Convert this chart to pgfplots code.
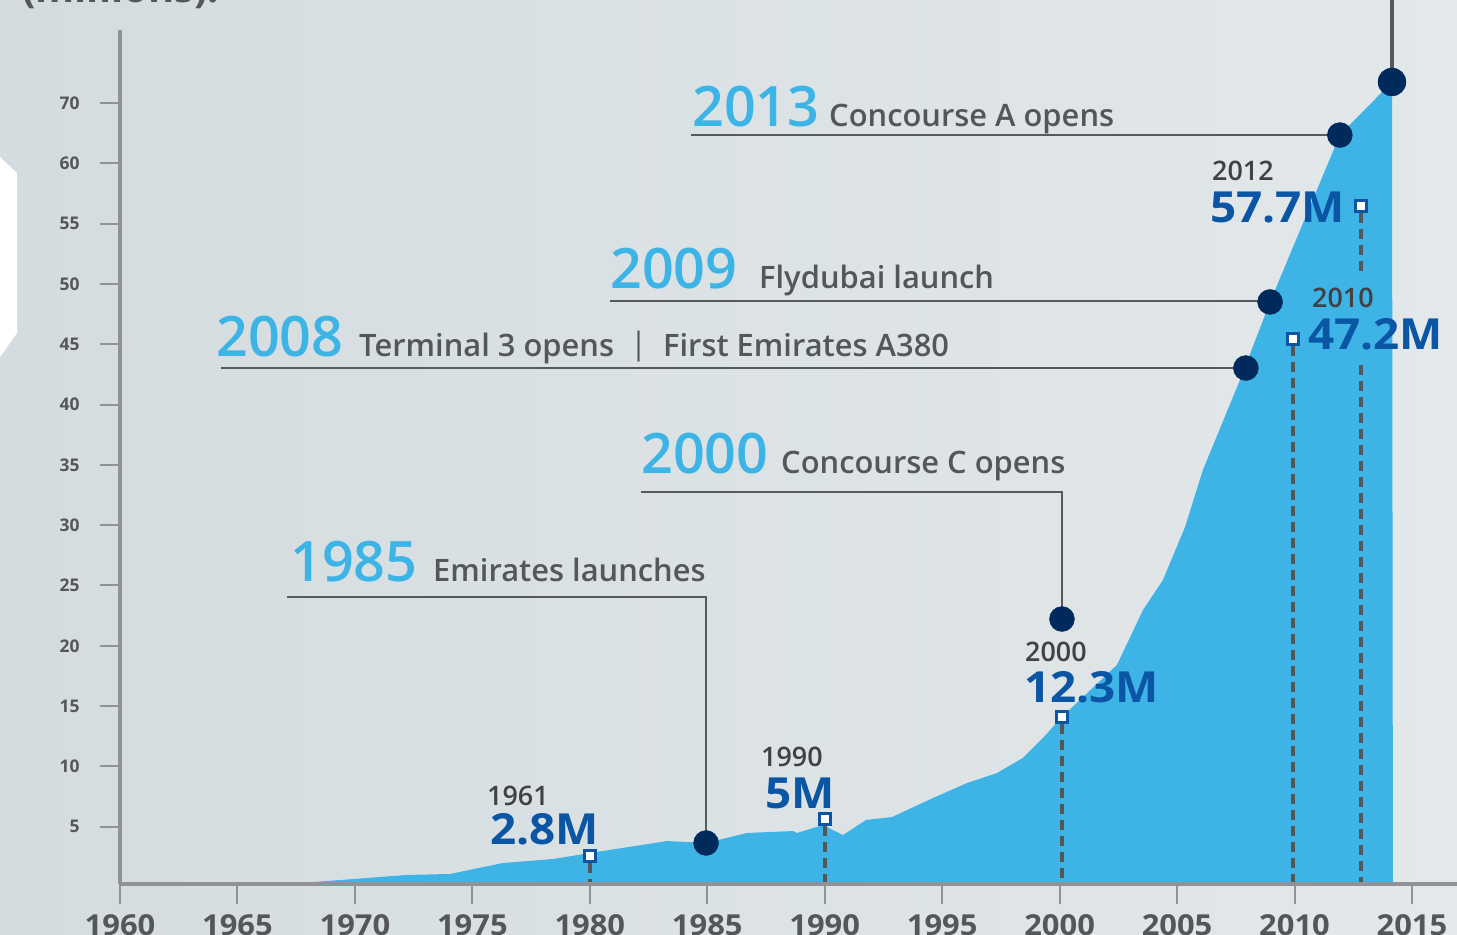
\documentclass[border=0pt]{standalone}
\usepackage{fontspec}
\usepackage{pgfplots}
\pgfplotsset{compat=1.18}
\setmainfont{Open Sans}
\newfontfamily\osSB{Open Sans Semibold}
\newfontfamily\osW{Open Sans}[FakeStretch=1.07]
\definecolor{bgL}{HTML}{D4DCDF}
\definecolor{bgR}{HTML}{E3E8EA}
\definecolor{areac}{HTML}{3DB3E6}
\definecolor{navy}{HTML}{002A5C}
\definecolor{dblue}{HTML}{0A56A5}
\definecolor{lblue}{HTML}{3DB4E6}
\definecolor{tgrey}{HTML}{555658}
\definecolor{dgrey}{HTML}{414143}
\definecolor{lgrey}{HTML}{58595B}
\definecolor{axgrey}{HTML}{909295}
\begin{document}
\begin{tikzpicture}
\useasboundingbox (0,0) rectangle (1457bp,935bp);
\clip (0,0) rectangle (1457bp,935bp);
\shade[left color=bgL, right color=bgR] (0,0) rectangle (1457bp,935bp);
\begin{scope}[x=1bp,y=-1bp,shift={(0bp,935bp)}]
  \fill[white] (0,157) -- (17,173) -- (17,333) -- (0,357) -- cycle;
  \node[anchor=base west, inner sep=0, text=tgrey, font=\fontsize{40}{42}\selectfont\bfseries] at (22,3) {(millions):};
\end{scope}
\begin{axis}[
  at={(120bp,51bp)}, anchor=south west, scale only axis,
  width=1337bp, height=854bp,
  xmin=1960, xmax=2016.92, ymin=0.25, ymax=71.06,
  axis x line=bottom, axis y line=left,
  axis line style={-, axgrey, line width=3.5bp},
  axis on top, clip=false,
  xtick={1960,1965,1970,1975,1980,1985,1990,1995,2000,2005,2010,2015},
  xticklabels={1960,1965,1970,1975,1980,1985,1990,1995,2000,2005,2010,2015},
  ytick={5,10,15,20,25,30,35,40,45,50,55,60,65},
  yticklabels={5,10,15,20,25,30,35,40,45,50,55,60,70},
  tick align=outside, major tick length=20bp,
  tick style={axgrey, line width=2bp},
  xticklabel style={font=\fontsize{29}{30}\selectfont\osW\bfseries, text=tgrey, yshift=-7bp},
  yticklabel style={font=\fontsize{17.5}{18}\selectfont\bfseries, text=tgrey, xshift=-17bp},
]
% passenger area
\addplot[fill=areac, draw=none] coordinates {
(1967.96,0.25) (1968.22,0.41) (1969.92,0.66) (1972.22,1.00) (1974.05,1.08)
(1976.30,1.99) (1978.43,2.32) (1980.01,2.82) (1983.29,3.81) (1984.14,3.73)
(1984.95,3.65) (1986.69,4.48) (1988.65,4.64) (1988.82,4.48) (1989.93,5.14)
(1990.78,4.31) (1991.76,5.56) (1992.86,5.80) (1994.61,7.38) (1996.06,8.62)
(1997.33,9.45) (1998.44,10.70) (1999.29,12.35) (2000.10,14.10) (2002.44,18.41)
(2003.55,22.97) (2004.40,25.46) (2005.34,29.85) (2006.10,34.58) (2007.68,42.04)
(2008.96,48.51) (2011.93,62.35) (2014.15,66.75) (2014.19,0.25)
};
% dashed drop lines
\addplot[tgrey, line width=4bp, dash pattern=on 10bp off 6bp] coordinates {(1980.01,1.99) (1980.01,0.25)};
\addplot[tgrey, line width=4bp, dash pattern=on 10bp off 6bp] coordinates {(1990.01,5.06) (1990.01,0.25)};
\addplot[tgrey, line width=4bp, dash pattern=on 10bp off 6bp] coordinates {(2000.10,13.52) (2000.10,0.25)};
\addplot[tgrey, line width=4bp, dash pattern=on 10bp off 6bp] coordinates {(2009.93,44.86) (2009.93,0.25)};
\addplot[tgrey, line width=4bp, dash pattern=on 10bp off 6bp] coordinates {(2012.83,55.89) (2012.83,50.75)};
\addplot[tgrey, line width=4bp, dash pattern=on 10bp off 6bp] coordinates {(2012.83,43.28) (2012.83,0.25)};
% connector lines
\addplot[lgrey, line width=2.5bp] coordinates {(1967.11,24.05) (1984.95,24.05) (1984.95,3.65)};
\addplot[lgrey, line width=2.5bp] coordinates {(1982.18,32.75) (2000.10,32.75) (2000.10,22.22)};
\addplot[lgrey, line width=2.5bp] coordinates {(1964.30,43.03) (2007.93,43.03)};
\addplot[lgrey, line width=2.5bp] coordinates {(1980.86,48.59) (2008.96,48.59)};
\addplot[lgrey, line width=2.5bp] coordinates {(1984.31,62.35) (2011.93,62.35)};
\addplot[lgrey, line width=3.5bp] coordinates {(2014.15,66.75) (2014.15,73.6)};
% milestone dots
\addplot[only marks, mark=*, mark size=12.5bp, mark options={fill=navy, draw=navy}] coordinates {
(1984.95,3.65) (2000.10,22.22) (2007.93,43.03) (2008.96,48.51) (2011.93,62.35)};
\addplot[only marks, mark=*, mark size=14bp, mark options={fill=navy, draw=navy}] coordinates {(2014.15,66.75)};
% value squares
\addplot[only marks, mark=square*, mark size=5.5bp, mark options={fill=white, draw=dblue, line width=3bp}] coordinates {
(1980.01,2.57) (1990.01,5.64) (2000.10,14.10) (2009.93,45.44) (2012.83,56.47)};
\end{axis}
\begin{scope}[x=1bp,y=-1bp,shift={(0bp,935bp)}]
  \tikzset{big/.style={anchor=base west, inner sep=0, text=lblue, font=\fontsize{56}{58}\selectfont\osSB},
           ev/.style={anchor=base west, inner sep=0, text=tgrey, font=\fontsize{31}{32}\selectfont\osSB},
           yr/.style={anchor=base west, inner sep=0, text=dgrey, font=\fontsize{27}{28}\selectfont\osSB},
           val/.style={anchor=base west, inner sep=0, text=dblue, font=\fontsize{43}{44}\selectfont\osW\bfseries}}
  \node[big] at (290,582) {1985};
  \node[ev] at (433,582) {Emirates launches};
  \node[big] at (641,474) {2000};
  \node[ev] at (781,474) {Concourse C opens};
  \node[big] at (216,357) {2008};
  \node[ev] at (359,357) {Terminal 3 opens};
  \node[ev, font=\fontsize{31}{32}\selectfont] at (630,355) {|};
  \node[ev] at (663,357) {First Emirates A380};
  \node[big] at (610,289) {2009};
  \node[ev] at (759,289) {Flydubai launch};
  \node[big] at (692,127) {2013};
  \node[ev] at (829,127) {Concourse A opens};
  \node[yr] at (487,806) {1961};
  \node[val] at (490,845) {2.8M};
  \node[yr] at (761,767) {1990};
  \node[val] at (765,809) {5M};
  \node[yr] at (1025,662) {2000};
  \node[val] at (1024,703) {12.3M};
  \node[yr] at (1212,181) {2012};
  \node[val] at (1210,223) {57.7M};
  \node[yr] at (1312,308) {2010};
  \node[val] at (1308,350) {47.2M};
\end{scope}
\end{tikzpicture}
\end{document}
